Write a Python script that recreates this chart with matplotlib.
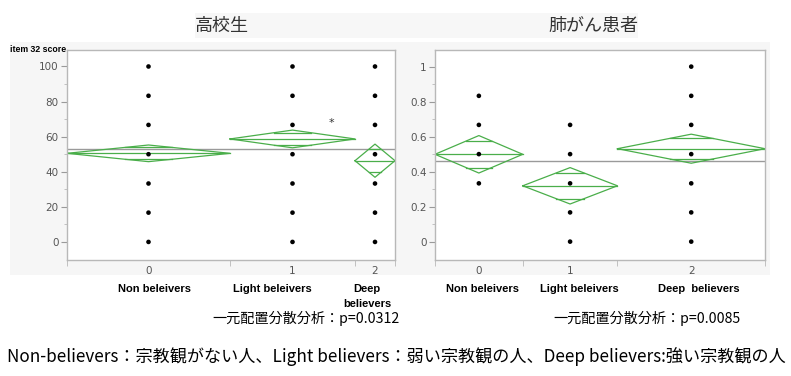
"""
Oneway means-diamond plots (JMP style): item 32 score by believer group,
high school students vs lung cancer patients.
"""

import numpy as np
import matplotlib
matplotlib.use("Agg")
import matplotlib.pyplot as plt
from matplotlib.patches import Rectangle

# ── data ──────────────────────────────────────────────────────────────────────
group_ticks = ["0", "1", "2"]

# high school students (left)
hs_title = "高校生"
hs_share = [163, 125, 40]                       # relative group size -> column width
hs_levels = [[0, 16.7, 33.3, 50, 66.7, 83.3, 100],
             [0, 16.7, 33.3, 50, 66.7, 83.3, 100],
             [0, 16.7, 33.3, 50, 66.7, 83.3, 100]]
hs_mean = [50.5, 58.7, 46.3]
hs_ci = [4.75, 5.05, 9.45]
hs_grand = 53.2
hs_cats = ["Non beleivers", "Light beleivers", "Deep\nbelievers"]
hs_p = "一元配置分散分析：p=0.0312"

# lung cancer patients (right)
lc_title = "肺がん患者"
lc_share = [88, 95, 148]
lc_levels = [[0.333, 0.5, 0.667, 0.833],
             [0, 0.167, 0.333, 0.5, 0.667],
             [0, 0.167, 0.333, 0.5, 0.667, 0.833, 1.0]]
lc_mean = [0.499, 0.319, 0.531]
lc_ci = [0.107, 0.104, 0.083]
lc_grand = 0.461
lc_cats = ["Non beleivers", "Light beleivers", "Deep  believers"]
lc_p = "一元配置分散分析：p=0.0085"

footnote = "Non-believers：宗教観がない人、Light believers：弱い宗教観の人、Deep believers:強い宗教観の人"

# ── style ─────────────────────────────────────────────────────────────────────
GREEN = "#4aae4a"
GRID_GRAY = "#9a9a9a"
SPINE = "#b8b8b8"
TICK_TXT = "#555555"
JP = ["Noto Sans CJK JP", "DejaVu Sans"]

W, H = 791, 376
fig = plt.figure(figsize=(W / 100, H / 100), dpi=100)


def fx(px):
    return px / W


def fy(py):
    return 1 - py / H


# faint screenshot backgrounds
fig.patches.append(Rectangle((fx(10), fy(275)), fx(760), 233 / H, transform=fig.transFigure,
                             facecolor="#f6f6f6", edgecolor="none", zorder=-1))
fig.patches.append(Rectangle((fx(195), fy(38)), fx(443), 25 / H, transform=fig.transFigure,
                             facecolor="#f7f7f7", edgecolor="none", zorder=-1))


def oneway(ax, share, levels, mean, ci, grand, ylim, major, minor, fmt):
    edges = np.concatenate([[0], np.cumsum(share)]) / np.sum(share)
    centers = (edges[:-1] + edges[1:]) / 2

    ax.axhline(grand, color=GRID_GRAY, lw=1.0, zorder=1)
    for i in range(len(share)):
        x0, x1, xc = edges[i], edges[i + 1], centers[i]
        m, c = mean[i], ci[i]
        # means diamond
        ax.plot([x0, xc, x1, xc, x0], [m, m + c, m, m - c, m], color=GREEN, lw=0.9, zorder=2)
        ax.plot([x0, x1], [m, m], color=GREEN, lw=0.9, zorder=2)
        # overlap marks
        d = c / np.sqrt(2)
        half = (1 - 1 / np.sqrt(2)) * (x1 - x0) / 2
        for s in (1, -1):
            ax.plot([xc - half, xc + half], [m + s * d] * 2, color=GREEN, lw=0.9, zorder=2)
        ax.scatter([xc] * len(levels[i]), levels[i], s=11, color="black", zorder=3,
                   edgecolors="none")

    ax.set_xlim(0, 1)
    ax.set_ylim(*ylim)
    ax.set_xticks(centers)
    ax.set_xticklabels(group_ticks)
    ax.set_xticks(edges, minor=True)
    ax.tick_params(axis="x", which="major", length=0, pad=4, labelsize=7.5, labelcolor=TICK_TXT)
    ax.tick_params(axis="x", which="minor", length=4, color=SPINE, direction="out")
    ax.set_yticks(major)
    ax.set_yticklabels([fmt(v) for v in major])
    ax.set_yticks(minor, minor=True)
    ax.tick_params(axis="y", which="major", length=4, color=GRID_GRAY, pad=2,
                   labelsize=7.5, labelcolor=TICK_TXT)
    ax.tick_params(axis="y", which="minor", length=2.5, color=SPINE)
    for sp in ax.spines.values():
        sp.set_color(SPINE)
        sp.set_linewidth(1.0)


# ── left panel ────────────────────────────────────────────────────────────────
ax1 = fig.add_axes([fx(67), fy(260), fx(328), 210 / H])
oneway(ax1, hs_share, hs_levels, hs_mean, hs_ci, hs_grand, (-10.3, 109.4),
       [0, 20, 40, 60, 80, 100], [10, 30, 50, 70, 90], lambda v: f"{v:g}")
ax1.text(0.807, 68, "*", ha="center", va="center", fontsize=8, color="#333333")

# ── right panel ───────────────────────────────────────────────────────────────
ax2 = fig.add_axes([fx(435), fy(260), fx(330), 210 / H])
oneway(ax2, lc_share, lc_levels, lc_mean, lc_ci, lc_grand, (-0.105, 1.095),
       [0, 0.2, 0.4, 0.6, 0.8, 1.0], [0.1, 0.3, 0.5, 0.7, 0.9], lambda v: f"{v:g}")

# ── texts ─────────────────────────────────────────────────────────────────────
fig.text(fx(222), fy(26), hs_title, ha="center", va="center", fontsize=13,
         color="#333333", family=JP)
fig.text(fx(593), fy(26), lc_title, ha="center", va="center", fontsize=13,
         color="#333333", family=JP)
fig.text(fx(10), fy(50), "item 32 score", ha="left", va="center", fontsize=6.3,
         fontweight="bold", family="Liberation Sans")

for x, lab in zip([155, 272, 367], hs_cats):
    fig.text(fx(x), fy(284), lab, ha="center", va="top", fontsize=8, fontweight="bold",
             family="Liberation Sans", linespacing=1.6)
for x, lab in zip([482, 579, 699], lc_cats):
    fig.text(fx(x), fy(284), lab, ha="center", va="top", fontsize=8, fontweight="bold",
             family="Liberation Sans")

fig.text(fx(306), fy(318), hs_p, ha="center", va="center", fontsize=10.2, family=JP)
fig.text(fx(647), fy(318), lc_p, ha="center", va="center", fontsize=10.2, family=JP)
fig.text(fx(396), fy(357), footnote, ha="center", va="center", fontsize=12.3, family=JP)

fig.savefig("out.png", dpi=100)
